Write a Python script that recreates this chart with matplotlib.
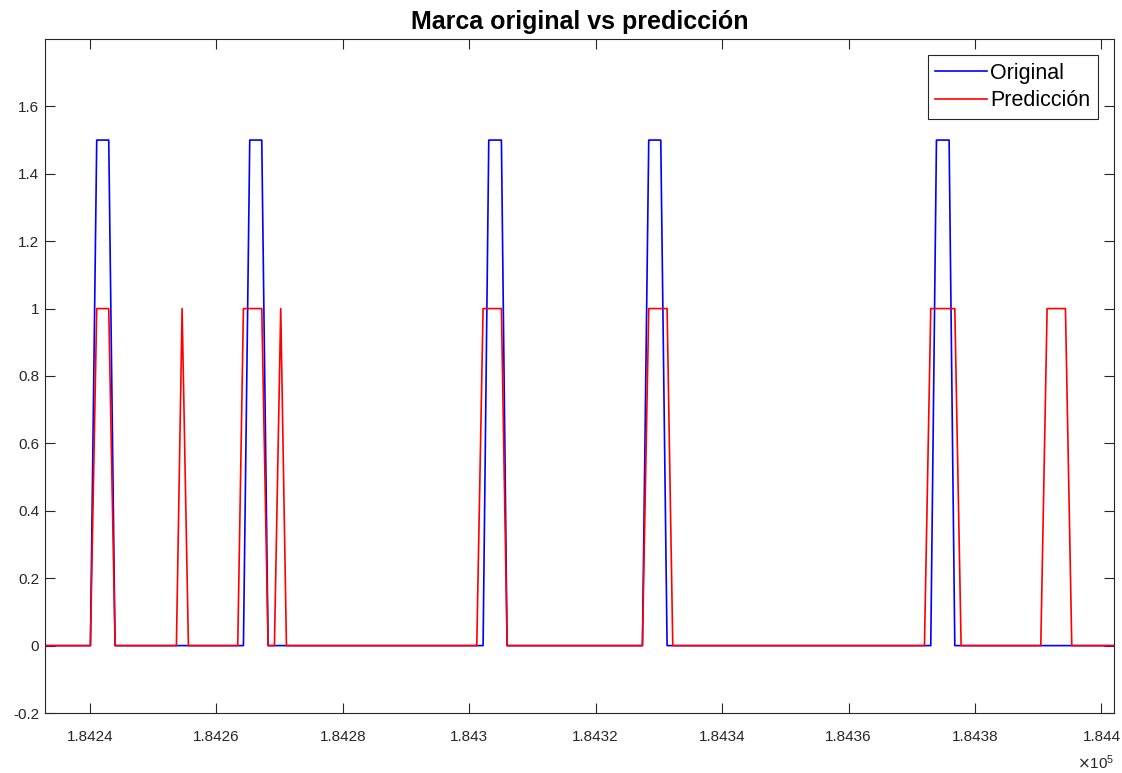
import matplotlib.pyplot as plt
import numpy as np

plt.rcParams['font.family'] = ['Liberation Sans', 'DejaVu Sans']

# data (x = sample position, y = mark value)
x_orig = [184232.3, 184240.1, 184241.1, 184243.0, 184244.0,
          184264.3, 184265.3, 184267.2, 184268.2,
          184302.2, 184303.1, 184305.1, 184306.0,
          184327.4, 184328.4, 184330.3, 184331.3,
          184373.0, 184373.9, 184375.9, 184376.8, 184402.5]
y_orig = [0, 0, 1.5, 1.5, 0,
          0, 1.5, 1.5, 0,
          0, 1.5, 1.5, 0,
          0, 1.5, 1.5, 0,
          0, 1.5, 1.5, 0, 0]

x_pred = [184232.3, 184240.1, 184241.1, 184243.0, 184244.0,
          184253.7, 184254.6, 184255.6,
          184263.4, 184264.3, 184267.2, 184268.2,
          184269.2, 184270.2, 184271.1,
          184301.2, 184302.2, 184305.1, 184306.0,
          184327.4, 184328.4, 184331.3, 184332.2,
          184372.0, 184373.0, 184376.8, 184377.8,
          184390.4, 184391.4, 184394.3, 184395.3, 184402.5]
y_pred = [0, 0, 1, 1, 0,
          0, 1, 0,
          0, 1, 1, 0,
          0, 1, 0,
          0, 1, 1, 0,
          0, 1, 1, 0,
          0, 1, 1, 0,
          0, 1, 1, 0, 0]

xticks = [184240, 184260, 184280, 184300, 184320, 184340, 184360, 184380, 184400]
xticklabels = ['1.8424', '1.8426', '1.8428', '1.843', '1.8432', '1.8434', '1.8436',
               '1.8438', '1.844']
yticks = [-0.2, 0, 0.2, 0.4, 0.6, 0.8, 1, 1.2, 1.4, 1.6]
yticklabels = ['-0.2', '0', '0.2', '0.4', '0.6', '0.8', '1', '1.2', '1.4', '1.6']

gray = '#262626'
fig = plt.figure(figsize=(11.22, 7.73), dpi=100)
ax = fig.add_axes([0.040, 0.0776, 0.953, 0.872])

ax.plot(x_orig, y_orig, color='#0000ff', lw=1.2, label='Original')
ax.plot(x_pred, y_pred, color='#ff0000', lw=1.2, label='Predicción')

ax.set_xlim(184232.9, 184402.0)
ax.set_ylim(-0.2, 1.8)
ax.set_xticks(xticks)
ax.set_xticklabels(xticklabels)
ax.set_yticks(yticks)
ax.set_yticklabels(yticklabels)
ax.tick_params(direction='in', top=True, right=True, length=7.5, width=0.8,
               colors=gray, labelsize=11)
ax.tick_params(axis='x', pad=12)
ax.tick_params(axis='y', pad=4)
for s in ax.spines.values():
    s.set_color(gray)
    s.set_linewidth(0.8)

ax.text(1.0, -0.074, r'$\times\mathregular{10^5}$', transform=ax.transAxes,
        ha='right', va='center', fontsize=11, color=gray)

ax.set_title('Marca original vs predicción', fontsize=18, fontweight='bold', pad=7)
leg = ax.legend(loc='upper right', fontsize=15.5, fancybox=False, framealpha=1,
                edgecolor=gray, borderpad=0.35, handlelength=2.4, handletextpad=0.15,
                labelspacing=0.3, borderaxespad=0.75)
leg.get_frame().set_linewidth(0.8)

fig.savefig('out.png', dpi=100)
